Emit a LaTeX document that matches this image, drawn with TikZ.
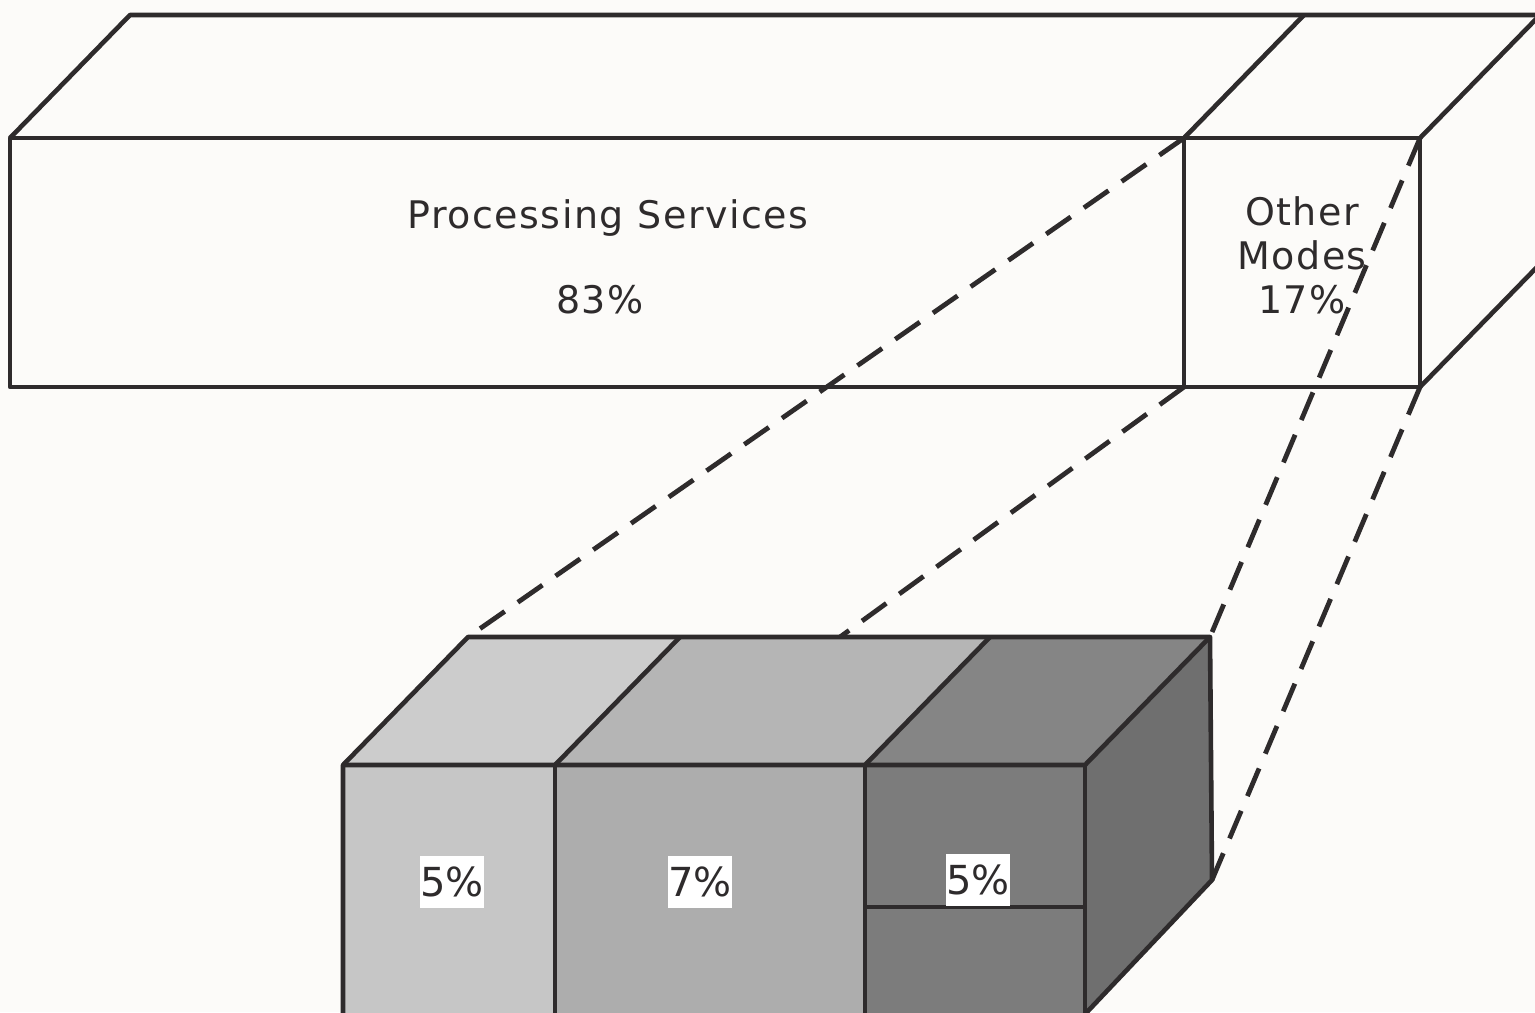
\documentclass[tikz,border=0pt]{standalone}
\usepackage{fontspec}
\setmainfont{DejaVu Sans}
\newfontfamily\spacedsans[LetterSpace=4]{DejaVu Sans}
\definecolor{ink}{HTML}{2E2B2C}
\definecolor{paper}{HTML}{FCFBF9}
\definecolor{toneA}{HTML}{C6C6C6}
\definecolor{toneAtop}{HTML}{CCCCCC}
\definecolor{toneB}{HTML}{ADADAD}
\definecolor{toneBtop}{HTML}{B5B5B5}
\definecolor{toneC}{HTML}{7C7C7C}
\definecolor{toneCtop}{HTML}{858585}
\definecolor{toneCside}{HTML}{6F6F6F}
\begin{document}
\begin{tikzpicture}[x=0.5pt,y=-0.5pt,
  edge/.style={draw=ink, line width=2.3pt, line join=round},
  guide/.style={draw=ink, line width=2.4pt, dash pattern=on 15pt off 8pt},
  lbl/.style={text=ink, font=\spacedsans\fontsize{19}{21}\selectfont, inner sep=0pt},
  tag/.style={fill=white, text=ink, font=\fontsize{20}{22}\selectfont,
              minimum width=28pt, minimum height=26pt, inner sep=0pt}]
% page
\fill[paper] (0,0) rectangle (1535,1012);
\useasboundingbox (0,0) rectangle (1535,1012);
\clip (0,0) rectangle (1535,1012);

% ---- large bar: corners of the front face and the receding top/side
\coordinate (pTL) at (10,138);   \coordinate (pTD) at (1184,138);  \coordinate (pTR) at (1420,138);
\coordinate (pBL) at (10,387);   \coordinate (pBD) at (1184,387);  \coordinate (pBR) at (1420,387);
\coordinate (qTL) at (130,15);   \coordinate (qTD) at (1304,15);   \coordinate (qTR) at (1540,15);
\coordinate (qBR) at (1540,264); \coordinate (qEnd) at (1600,15);

\draw[edge] (pTL) rectangle (pBR);
\draw[edge] (pTD) -- (pBD);
\draw[edge] (pTL) -- (qTL) -- (qEnd);
\draw[edge] (pTD) -- (qTD);
\draw[edge] (pTR) -- (qTR);
\draw[edge] (pBR) -- (qBR);

\node[lbl] (ps)  at (608,218) {Processing Services};
\node[lbl] (ps83) at (600,300) {83\%};
\node[lbl, align=center] (om) at (1302,255) {Other\\[1pt]Modes\\[1pt]17\%};

% ---- small block: front corners, back corners
\coordinate (f1) at (343,765);  \coordinate (f2) at (555,765);
\coordinate (f3) at (865,765);  \coordinate (f4) at (1085,765);
\coordinate (g1) at (343,1030); \coordinate (g2) at (555,1030);
\coordinate (g3) at (865,1030); \coordinate (g4) at (1085,1030);
\coordinate (h1) at (468,637);  \coordinate (h2) at (680,637);
\coordinate (h3) at (990,637);  \coordinate (h4) at (1210,637);
\coordinate (h5) at (1212,880); \coordinate (hm) at (840,637);

% faces
\fill[toneA] (f1) rectangle (g2);
\fill[toneB] (f2) rectangle (g3);
\fill[toneC] (f3) rectangle (g4);
\fill[toneAtop] (f1) -- (h1) -- (h2) -- (f2) -- cycle;
\fill[toneBtop] (f2) -- (h2) -- (h3) -- (f3) -- cycle;
\fill[toneCtop] (f3) -- (h3) -- (h4) -- (f4) -- cycle;
\fill[toneCside] (f4) -- (h4) -- (h5) -- (1070,1030) -- (g4) -- cycle;

% edges
\draw[edge] (g1) -- (f1) -- (h1) -- (h4) -- (h5) -- (1070,1030);
\draw[edge] (f1) -- (f4) -- (h4);
\draw[edge] (f2) -- (g2);
\draw[edge] (f3) -- (g3);
\draw[edge] (f4) -- (g4);
\draw[edge] (f2) -- (h2);
\draw[edge] (f3) -- (h3);
\draw[draw=ink, line width=1.6pt] (865,907) -- (1085,907);

% value tags
\node[tag] (t1) at (452,882) {5\%};
\node[tag] (t2) at (700,882) {7\%};
\node[tag] (t3) at (978,880) {5\%};

% ---- projection lines from the split bar to the block
\draw[guide] (pTD) -- (h1);
\draw[guide] (pBD) -- (hm);
\draw[guide] (pTR) -- (h4);
\draw[guide] (pBR) -- (h5);
\end{tikzpicture}
\end{document}
